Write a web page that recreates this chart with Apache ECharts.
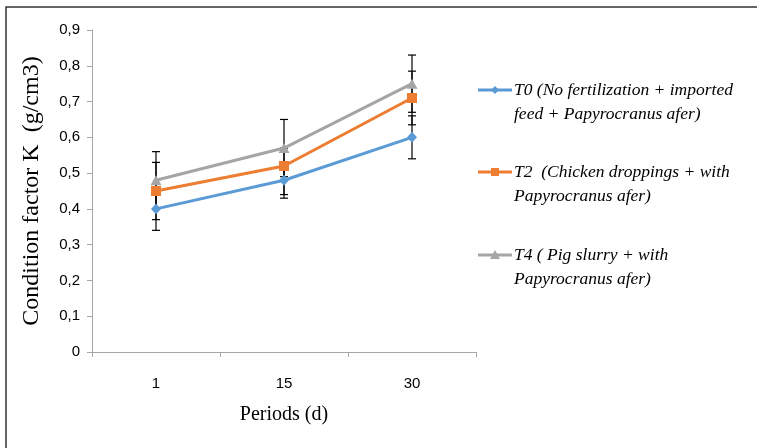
<!DOCTYPE html>
<html><head><meta charset="utf-8">
<script src="https://cdn.jsdelivr.net/npm/echarts@6/dist/echarts.min.js"></script>
<style>html,body{margin:0;padding:0;background:#fff}#c{width:757px;height:448px}</style>
</head><body><div id="c"></div>
<script>
const categories = ['1', '15', '30'];
const seriesNames = [
  'T0 (No fertilization + imported\nfeed + Papyrocranus afer)',
  'T2  (Chicken droppings + with\nPapyrocranus afer)',
  'T4 ( Pig slurry + with\nPapyrocranus afer)'
];
const t0Values = [0.40, 0.48, 0.60];
const t2Values = [0.45, 0.52, 0.71];
const t4Values = [0.48, 0.57, 0.75];
const t0ErrPlus = [0.06, 0.05, 0.06];
const t0ErrMinus = [0.06, 0.05, 0.06];
const t2ErrPlus = [0.08, 0.05, 0.075];
const t2ErrMinus = [0.08, 0.08, 0.075];
const t4ErrPlus = [0.08, 0.08, 0.08];
const t4ErrMinus = [0.08, 0.08, 0.08];
const yTicks = [0, 0.1, 0.2, 0.3, 0.4, 0.5, 0.6, 0.7, 0.8, 0.9];

const colors = ['#5B9BD5', '#ED7D31', '#A5A5A5'];
const symbols = ['diamond', 'rect', 'triangle'];
const symbolSizes = [[10, 11], 10, [11, 10]];
const vals = [t0Values, t2Values, t4Values];
const plus = [t0ErrPlus, t2ErrPlus, t4ErrPlus];
const minus = [t0ErrMinus, t2ErrMinus, t4ErrMinus];

const errData = [];
vals.forEach((v, s) => v.forEach((y, i) => errData.push([i, y - minus[s][i], y + plus[s][i]])));

const serif = '"Liberation Serif", "DejaVu Serif", serif';
const sans = '"Liberation Sans", Arial, sans-serif';

const series = [{
  type: 'custom',
  name: 'err',
  z: 1,
  silent: true,
  data: errData,
  encode: { x: 0, y: [1, 2] },
  renderItem: function (params, api) {
    const lo = api.coord([api.value(0), api.value(1)]);
    const hi = api.coord([api.value(0), api.value(2)]);
    const w = 4;
    const st = { stroke: '#000', lineWidth: 1.2 };
    return { type: 'group', children: [
      { type: 'line', shape: { x1: lo[0], y1: lo[1], x2: hi[0], y2: hi[1] }, style: st },
      { type: 'line', shape: { x1: lo[0] - w, y1: lo[1], x2: lo[0] + w, y2: lo[1] }, style: st },
      { type: 'line', shape: { x1: hi[0] - w, y1: hi[1], x2: hi[0] + w, y2: hi[1] }, style: st }
    ]};
  }
}];
vals.forEach((v, s) => series.push({
  type: 'line', name: seriesNames[s], data: v, z: 3,
  symbol: symbols[s], symbolSize: symbolSizes[s], showAllSymbol: true,
  lineStyle: { color: colors[s], width: 3 },
  itemStyle: { color: colors[s] },
  emphasis: { disabled: true }
}));

// legend drawn as graphics
const legendY = [90, 172, 255];
const legendGraphics = [];
seriesNames.forEach((n, s) => {
  const y = legendY[s];
  legendGraphics.push({ type: 'line', shape: { x1: 478, y1: y, x2: 512, y2: y }, style: { stroke: colors[s], lineWidth: 3 } });
  let mk;
  if (s === 0) mk = { type: 'polygon', shape: { points: [[495, y - 4], [499, y], [495, y + 4], [491, y]] }, style: { fill: colors[s] } };
  else if (s === 1) mk = { type: 'rect', shape: { x: 491, y: y - 4, width: 8, height: 8 }, style: { fill: colors[s] } };
  else mk = { type: 'polygon', shape: { points: [[495, y - 5], [500, y + 4], [490, y + 4]] }, style: { fill: colors[s] } };
  legendGraphics.push(mk);
  legendGraphics.push({ type: 'text', x: 514, y: y - 12, style: { text: n, font: 'italic 17.5px ' + serif, fill: '#000', lineHeight: 24, textVerticalAlign: 'top' } });
});

const chart = echarts.init(document.getElementById('c'), null, { renderer: 'canvas' });
chart.setOption({
  animation: false,
  backgroundColor: '#fff',
  grid: { left: 92, right: 281, top: 30, bottom: 96 },
  xAxis: {
    type: 'category', data: categories, boundaryGap: true,
    name: 'Periods (d)', nameLocation: 'middle', nameGap: 53,
    nameTextStyle: { fontFamily: serif, fontSize: 20, color: '#000' },
    axisLine: { lineStyle: { color: '#a6a6a6', width: 1 } },
    axisTick: { show: true, length: 5, lineStyle: { color: '#a6a6a6' } },
    axisLabel: { fontFamily: sans, fontSize: 15, color: '#000', margin: 24 },
    splitLine: { show: false }
  },
  yAxis: {
    type: 'value', min: 0, max: 0.9, interval: 0.1,
    name: 'Condition factor K  (g/cm3)', nameLocation: 'middle', nameGap: 48, nameRotate: 90,
    nameTextStyle: { fontFamily: serif, fontSize: 24, color: '#000' },
    axisLine: { show: true, lineStyle: { color: '#a6a6a6', width: 1 } },
    axisTick: { show: true, length: 5, lineStyle: { color: '#a6a6a6' } },
    axisLabel: { fontFamily: sans, fontSize: 15, color: '#000', margin: 12,
      formatter: v => { const t = yTicks.find(k => Math.abs(k - v) < 1e-9); return t === 0 ? '0' : (t !== undefined ? t : v).toFixed(1).replace('.', ','); } },
    splitLine: { show: false }
  },
  series: series,
  graphic: [{ type: 'rect', shape: { x: 6, y: 7, width: 800, height: 500 }, style: { fill: 'none', stroke: '#333', lineWidth: 1.5 }, z: 0 }].concat(legendGraphics)
});
</script></body></html>
